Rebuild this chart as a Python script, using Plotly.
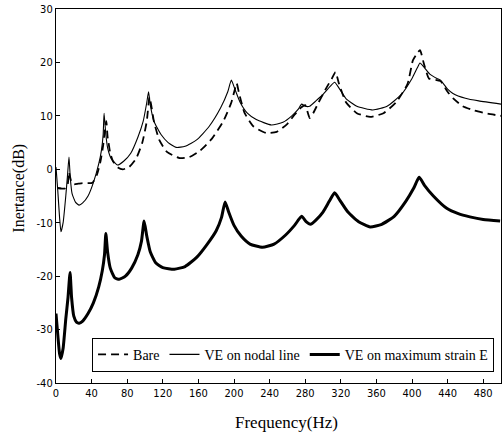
import plotly.graph_objects as go

# ---- data ----
bare_f = [2, 6, 10, 13, 14.5, 15.5, 17, 20, 25, 30, 36, 41, 46, 50, 53, 55, 56.5, 58, 59, 61, 64, 70, 75, 82, 90, 97,
          102, 105, 107, 110, 116, 125, 139, 150, 162, 175, 188, 197, 201, 203, 206, 212, 222, 236, 248, 260, 268,
          275, 280, 285, 289, 295, 303, 310, 314, 318, 326, 338, 353, 368, 382, 395, 401, 405, 409, 413, 419, 425,
          432, 440, 446, 457, 470, 485, 500]
bare_db = [-3.5, -3.6, -3.6, -3.0, -0.5, -1.2, -2.2, -2.8, -2.7, -2.6, -2.6, -2.5, -1.0, 1.5, 4.5, 7.5, 9.0, 6.0, 5.0,
           3.0, 1.5, 0.3, 0.0, 0.4, 2.0, 5.0, 9.0, 13.5, 12.0, 9.0, 5.5, 3.2, 2.1, 2.3, 3.5, 5.7, 9.0, 12.5, 15.0,
           16.1, 14.0, 10.5, 8.0, 6.8, 7.0, 8.5, 10.2, 11.5, 12.0, 9.6, 10.5, 12.5, 15.0, 17.0, 18.2, 16.0, 12.5,
           10.5, 9.8, 10.5, 12.5, 16.0, 20.4, 21.5, 22.3, 20.0, 17.0, 16.8, 16.5, 14.5, 13.3, 11.8, 11.0, 10.4, 10.0]

nodal_f = [0, 2, 4, 5.6, 8, 11, 13, 14.6, 16, 18, 22, 26, 30, 36, 42, 48, 51, 53, 54, 56, 58, 62, 69, 76, 84, 92, 98,
           102, 104, 106, 110, 118, 126, 135, 145, 158, 172, 185, 193, 197, 201, 207, 215, 225, 242, 255, 265, 272,
           276, 280, 285, 292, 300, 308, 313, 318, 326, 338, 356, 372, 388, 400, 406, 409, 413, 420, 428, 432, 440,
           446, 460, 475, 500]
nodal_db = [0.4, -4.0, -9.0, -11.7, -10.0, -5.0, -1.0, 2.3, -1.5, -4.5, -6.2, -6.7, -6.3, -5.0, -2.5, 1.0, 3.5, 6.5,
            10.5, 6.5, 4.0, 2.0, 0.8, 1.5, 3.0, 6.0, 9.0, 12.5, 14.5, 12.0, 9.0, 6.5, 5.0, 4.1, 4.3, 5.5, 8.0, 11.5,
            14.5, 16.7, 15.0, 12.5, 10.5, 9.3, 8.3, 8.8, 10.0, 11.2, 12.2, 11.8, 11.8, 12.8, 14.0, 15.5, 16.3, 15.2,
            13.2, 11.8, 11.1, 11.8, 14.0, 17.0, 19.0, 19.9, 19.2, 17.8, 17.0, 16.7, 15.0, 14.2, 13.3, 12.8, 12.2]

strain_f = [0, 2, 4, 5.6, 8, 11, 13.5, 15.8, 17.5, 20, 23, 26, 30, 36, 42, 48, 52, 54.5, 56, 58, 61, 66, 71, 78, 85,
            92, 96, 99, 102, 106, 112, 120, 133, 145, 158, 170, 180, 186, 190, 194, 200, 208, 218, 232, 245, 258,
            268, 276, 281, 286, 292, 300, 307, 313, 319, 328, 340, 353, 366, 380, 393, 402, 408, 414, 424, 439, 452,
            465, 480, 499]
strain_db = [-27.0, -31.0, -34.5, -35.4, -33.5, -28.0, -24.0, -19.3, -24.0, -27.5, -28.6, -28.8, -28.4, -27.0, -25.0,
             -22.0, -19.0, -16.0, -12.0, -15.5, -18.5, -20.3, -20.6, -20.0, -18.5, -16.0, -13.5, -9.7, -12.5, -15.5,
             -17.5, -18.4, -18.7, -18.2, -16.5, -14.0, -11.5, -9.0, -6.1, -8.0, -10.5, -12.5, -14.0, -14.6, -14.0,
             -12.3, -10.5, -8.8, -9.8, -10.3, -9.5, -8.0, -6.0, -4.4, -5.8, -8.0, -9.8, -10.8, -10.3, -8.8, -6.0,
             -3.5, -1.5, -3.0, -5.0, -7.3, -8.3, -8.9, -9.4, -9.7]

x_ticks = [0, 40, 80, 120, 160, 200, 240, 280, 320, 360, 400, 440, 480]
y_ticks = [-40, -30, -20, -10, 0, 10, 20, 30]

series_names = ["Bare", "VE on nodal line", "VE on maximum strain E"]

tick_font = dict(family="Liberation Sans Narrow, DejaVu Sans Condensed, Arial Narrow, sans-serif",
                 size=11, color="black")
serif = "Liberation Serif, Times New Roman, serif"

fig = go.Figure()
fig.add_trace(go.Scatter(x=bare_f, y=bare_db, mode="lines", name=series_names[0],
                         line=dict(color="black", width=1.8, dash="8px,5px", shape="spline", smoothing=0.5)))
fig.add_trace(go.Scatter(x=nodal_f, y=nodal_db, mode="lines", name=series_names[1],
                         line=dict(color="black", width=1.1, shape="spline", smoothing=0.5)))
fig.add_trace(go.Scatter(x=strain_f, y=strain_db, mode="lines", name=series_names[2],
                         line=dict(color="black", width=3, shape="spline", smoothing=0.5)))

fig.update_layout(
    width=503, height=441,
    margin=dict(l=56, r=2, t=9, b=58),
    paper_bgcolor="white", plot_bgcolor="white",
    showlegend=True,
    legend=dict(orientation="h", x=0.081, y=0.03, xanchor="left", yanchor="bottom",
                bordercolor="black", borderwidth=1, bgcolor="white",
                font=dict(family=serif, size=14, color="black"),
                itemwidth=30, tracegroupgap=0),
    xaxis=dict(range=[0, 500], tickmode="array", tickvals=x_ticks, ticktext=[str(v) for v in x_ticks],
               ticks="inside", ticklen=4, tickcolor="black", showgrid=False, zeroline=False,
               showline=True, linecolor="black", linewidth=1.2, mirror=True, tickfont=tick_font),
    yaxis=dict(range=[-40, 30], tickmode="array", tickvals=y_ticks, ticktext=[str(v) for v in y_ticks],
               ticks="inside", ticklen=4, tickcolor="black", showgrid=False, zeroline=False,
               showline=True, linecolor="black", linewidth=1.2, mirror=True, tickfont=tick_font),
    annotations=[
        dict(text="Frequency(Hz)", x=259, xref="x", y=-0.105, yref="paper", showarrow=False,
             xanchor="center", yanchor="middle", font=dict(family=serif, size=17, color="black")),
        dict(text="Inertance(dB)", x=-0.085, xref="paper", y=0.52, yref="paper", showarrow=False, textangle=-90,
             xanchor="center", yanchor="middle", font=dict(family=serif, size=16, color="black")),
    ],
)

fig.write_html("out.html", config={"displayModeBar": False},
               post_script="document.body.style.margin='0';")
